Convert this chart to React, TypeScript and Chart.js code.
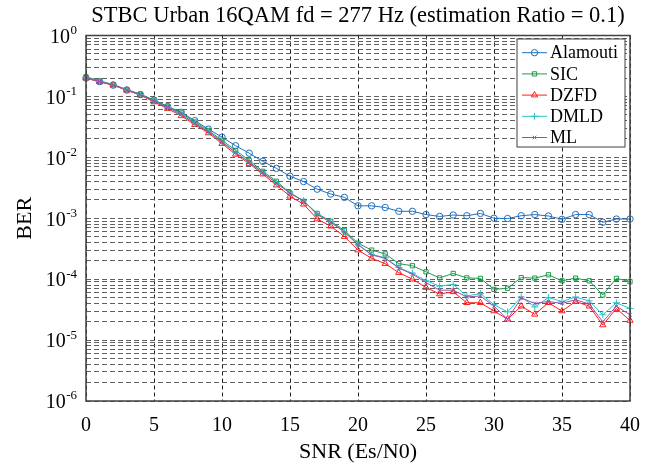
import React, { useEffect, useRef } from 'react';
import { Chart, registerables } from 'chart.js';
import { drawPoint } from 'chart.js/helpers';

Chart.register(...registerables);

const snr = [0, 1, 2, 3, 4, 5, 6, 7, 8, 9, 10, 11, 12, 13, 14, 15, 16, 17, 18, 19, 20, 21, 22, 23, 24, 25, 26, 27, 28, 29, 30, 31, 32, 33, 34, 35, 36, 37, 38, 39, 40];

const alamouti = [0.20, 0.175, 0.153, 0.127, 0.107, 0.087, 0.068, 0.055, 0.040, 0.029, 0.0215, 0.0155, 0.0117, 0.0086, 0.0066, 0.0049, 0.0040, 0.0030, 0.0025, 0.0022, 0.0016, 0.0016, 0.0015, 0.0013, 0.0013, 0.00115, 0.00107, 0.00113, 0.0011, 0.0012, 0.0010, 0.00099, 0.0011, 0.00115, 0.00109, 0.00096, 0.00115, 0.00115, 0.00086, 0.00097, 0.00097];

const sic = [0.21, 0.18, 0.157, 0.13, 0.109, 0.087, 0.069, 0.0536, 0.038, 0.0277, 0.019, 0.013, 0.0089, 0.0059, 0.00405, 0.0026, 0.0019, 0.0012, 0.00089, 0.00063, 0.00039, 0.0003, 0.00026, 0.00018, 0.000166, 0.000132, 0.000105, 0.000124, 0.000105, 0.000103, 0.000068, 0.000071, 0.000106, 0.000104, 0.000118, 0.000094, 0.000104, 0.000094, 0.000055, 0.000103, 0.000091];

const dzfd = [0.20, 0.173, 0.153, 0.126, 0.105, 0.081, 0.063, 0.048, 0.0344, 0.0251, 0.0168, 0.0112, 0.0079, 0.0053, 0.0035, 0.0023, 0.0017, 0.00097, 0.00074, 0.0005, 0.0003, 0.00022, 0.00018, 0.000128, 0.0001, 0.000073, 0.000057, 0.000062, 0.000041, 0.000041, 0.00003, 0.000022, 0.000036, 0.0000265, 0.000041, 0.00003, 0.000043, 0.000036, 0.0000177, 0.000033, 0.000021];

const dmld = [0.205, 0.176, 0.155, 0.128, 0.107, 0.084, 0.066, 0.051, 0.036, 0.0265, 0.018, 0.0121, 0.0084, 0.0056, 0.0038, 0.0026, 0.00195, 0.00117, 0.00087, 0.0006, 0.00037, 0.000255, 0.000225, 0.000155, 0.000125, 0.000094, 0.000077, 0.000082, 0.000053, 0.000058, 0.000038, 0.000029, 0.000051, 0.000035, 0.00005, 0.000043, 0.000051, 0.000044, 0.000026, 0.000041, 0.000033];

const ml = [0.205, 0.176, 0.155, 0.128, 0.107, 0.084, 0.066, 0.051, 0.036, 0.0262, 0.0178, 0.012, 0.0083, 0.0056, 0.0038, 0.00257, 0.00193, 0.00115, 0.00086, 0.00059, 0.000367, 0.00025, 0.00022, 0.000152, 0.000121, 0.000088, 0.000066, 0.000066, 0.000051, 0.000053, 0.000036, 0.000022, 0.000049, 0.00004, 0.000043, 0.00004, 0.000046, 0.000039, 0.00002, 0.000036, 0.000026];

const seriesNames = ['Alamouti', 'SIC', 'DZFD', 'DMLD', 'ML'];
const seriesValues = [alamouti, sic, dzfd, dmld, ml];
const seriesColors = ['#1f6fc0', '#1e9a4a', '#ff1a1a', '#2cc4c4', '#9a4fb0'];
const seriesMarkers = ['circle', 'rect', 'triangle', 'cross', 'crossRot'];
const seriesRadius = [3.2, 3, 3.6, 3.5, 2.5];

const yDecades = [-6, -5, -4, -3, -2, -1, 0];
const yMinorSteps = [1, 2, 3, 4, 5, 6, 7, 8, 9];
const xMin = 0;
const xMax = 40;
const xStep = 5;

const chartTitle = 'STBC Urban 16QAM fd = 277 Hz (estimation Ratio = 0.1)';
const xTitle = 'SNR (Es/N0)';
const yTitle = 'BER';

const FONT = '"Liberation Serif", "Times New Roman", serif';

const overlayPlugin = {
  id: 'overlay',
  afterDraw(chart: any) {
    const { ctx, chartArea: a, scales } = chart;
    const ys = scales.y;
    ctx.save();
    ctx.strokeStyle = '#404040';
    ctx.lineWidth = 1.5;
    ctx.setLineDash([]);
    ctx.strokeRect(a.left, a.top, a.right - a.left, a.bottom - a.top);

    ctx.fillStyle = '#000';
    for (const e of yDecades) {
      const y = ys.getPixelForValue(Math.pow(10, e));
      const xEnd = a.left - 9;
      const expText = String(e);
      ctx.font = `13px ${FONT}`;
      const ew = ctx.measureText(expText).width;
      ctx.textAlign = 'left';
      ctx.textBaseline = 'middle';
      ctx.fillText(expText, xEnd - ew, y - 5);
      ctx.font = `20px ${FONT}`;
      ctx.textAlign = 'right';
      ctx.fillText('10', xEnd - ew - 0.5, y + 2);
    }

    const boxW = 108;
    const boxH = 108;
    const bx = a.right - 5 - boxW;
    const by = a.top + 3.5;
    ctx.fillStyle = '#fff';
    ctx.fillRect(bx, by, boxW, boxH);
    ctx.strokeStyle = '#404040';
    ctx.lineWidth = 1;
    ctx.strokeRect(bx, by, boxW, boxH);
    chart.data.datasets.forEach((ds: any, i: number) => {
      const y = by + 13.7 + i * 21.2;
      ctx.strokeStyle = ds.borderColor;
      ctx.lineWidth = 1;
      ctx.beginPath();
      ctx.moveTo(bx + 5, y);
      ctx.lineTo(bx + 30, y);
      ctx.stroke();
      ctx.fillStyle = 'rgba(255,255,255,0)';
      drawPoint(ctx, { pointStyle: ds.pointStyle, radius: ds.pointRadius, rotation: 0, borderWidth: 1 }, bx + 17.5, y);
      ctx.fillStyle = '#000';
      ctx.font = `18px ${FONT}`;
      ctx.textAlign = 'left';
      ctx.textBaseline = 'middle';
      ctx.fillText(ds.label, bx + 33, y + 1);
    });
    ctx.restore();
  },
};

export default function App() {
  const ref = useRef<HTMLCanvasElement | null>(null);
  useEffect(() => {
    if (!ref.current) return;
    const datasets = seriesNames.map((name, i) => ({
      label: name,
      data: snr.map((x, j) => ({ x, y: seriesValues[i][j] })),
      borderColor: seriesColors[i],
      backgroundColor: 'rgba(255,255,255,0)',
      pointBorderColor: seriesColors[i],
      pointBackgroundColor: 'rgba(255,255,255,0)',
      pointStyle: seriesMarkers[i],
      pointRadius: seriesRadius[i],
      pointBorderWidth: 1,
      borderWidth: 1,
      tension: 0,
      clip: false as any,
      order: seriesNames.length - i,
    }));
    const chart = new Chart(ref.current, {
      type: 'line',
      data: { datasets },
      plugins: [overlayPlugin],
      options: {
        animation: false,
        responsive: false,
        events: [],
        layout: { padding: { left: 0, right: 23, top: 0, bottom: 0 } },
        plugins: {
          legend: { display: false },
          tooltip: { enabled: false },
          title: {
            display: true,
            text: chartTitle,
            fullSize: false,
            color: '#000',
            font: { family: FONT, size: 22.5, weight: 'normal' },
            padding: { top: 3, bottom: 5.5 },
          },
        },
        scales: {
          x: {
            type: 'linear',
            min: xMin,
            max: xMax,
            ticks: { stepSize: xStep, color: '#000', font: { family: FONT, size: 20 }, padding: 13, maxRotation: 0, autoSkip: false },
            grid: { color: '#202020', lineWidth: 1, drawTicks: false },
            border: { display: false, dash: [4, 3] },
            title: { display: true, text: xTitle, color: '#000', font: { family: FONT, size: 22 }, padding: { top: 0, bottom: 2 } },
            afterFit: (s: any) => { s.height = 66; },
          },
          y: {
            type: 'logarithmic',
            min: Math.pow(10, yDecades[0]),
            max: Math.pow(10, yDecades[yDecades.length - 1]),
            ticks: { callback: () => '', autoSkip: false, font: { family: FONT, size: 18 } },
            grid: { color: '#606060', lineWidth: 1, drawTicks: false },
            border: { display: false, dash: [5, 3] },
            title: { display: true, text: yTitle, color: '#000', font: { family: FONT, size: 22 }, padding: { top: 12, bottom: 0 } },
            afterBuildTicks: (s: any) => {
              const t: { value: number }[] = [];
              for (let d = 0; d < yDecades.length - 1; d++) {
                for (const k of yMinorSteps) {
                  t.push({ value: Number((k * Math.pow(10, yDecades[d])).toPrecision(10)) });
                }
              }
              t.push({ value: Math.pow(10, yDecades[yDecades.length - 1]) });
              s.ticks = t;
            },
            afterFit: (s: any) => { s.width = 86; },
          },
        },
      },
    } as any);
    return () => chart.destroy();
  }, []);
  return (
    <div style={{ position: 'absolute', left: 0, top: 0, width: 653, height: 467, background: '#fff' }}>
      <canvas ref={ref} width={653} height={467} />
    </div>
  );
}
